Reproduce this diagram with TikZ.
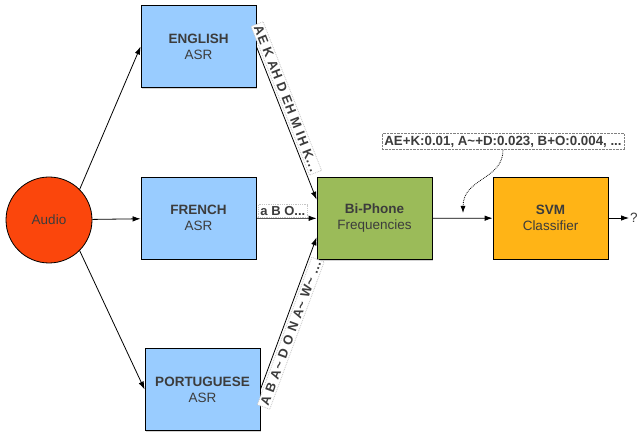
\documentclass[tikz,border=0pt]{standalone}
\usepackage{fontspec}
\setmainfont{Liberation Sans}
\newfontfamily\spacedfont[LetterSpace=7]{Liberation Sans}
\usepackage{xcolor}
\usetikzlibrary{shapes,calc,arrows.meta,shadows}
\definecolor{audiored}{RGB}{251,70,12}
\definecolor{asrblue}{RGB}{153,204,255}
\definecolor{phonegreen}{RGB}{155,187,89}
\definecolor{svmorange}{RGB}{255,180,22}
\definecolor{darktext}{RGB}{60,60,60}

\begin{document}
\begin{tikzpicture}[x=1pt, y=-1pt,
      box/.style={rectangle, draw, line width=0.8pt, minimum width=115pt, minimum height=82pt,
        align=center, text=darktext, font=\fontsize{13.5}{16}\selectfont,
        drop shadow={shadow xshift=1.2pt, shadow yshift=-1.2pt, opacity=0.35}},
      audio/.style={circle, draw, line width=0.8pt, fill=audiored, minimum size=86pt,
        text=darktext, font=\fontsize{13.5}{16}\selectfont},
      lbl/.style={draw=gray!45, densely dotted, fill=white, inner sep=2pt, text=darktext,
        font=\bfseries\fontsize{13}{13}\selectfont},
      slbl/.style={lbl, sloped, font=\spacedfont\bfseries\fontsize{13}{13}\selectfont},
      arr/.style={line width=0.8pt, -{Latex[length=8pt, width=5.5pt]}}]
      \useasboundingbox (0, 0) rectangle (639, 435);
      \node[audio](audio) at (49, 220){Audio};
      \node[box, fill=asrblue](english) at (198.5, 46.5){\textbf{ENGLISH}\\ASR};
      \node[box, fill=asrblue](french) at (198.5, 218){\textbf{FRENCH}\\ASR};
      \node[box, fill=asrblue](portuguese) at (202.5, 389.5){\textbf{PORTUGUESE}\\ASR};
      \node[box, fill=phonegreen](biphone) at (374.5, 218.5){\textbf{Bi-Phone}\\Frequencies};
      \node[box, fill=svmorange](svm) at (550.5, 218){\textbf{SVM}\\Classifier};
      \node[anchor=west, inner sep=1pt, text=darktext, font=\fontsize{13.5}{16}\selectfont](result) at (629, 218){?};
      \node[lbl, draw=gray, font=\bfseries\fontsize{13.3}{13.3}\selectfont, inner sep=2.5pt](stats) at (503, 141.5)
        {AE+K:0.01, A\textasciitilde+D:0.023, B+O:0.004, ...};
      \coordinate(hint) at (463, 213);
      \draw[arr] (audio.45) -- (english.west);
      \draw[arr] (audio) -- (french);
      \draw[arr] (audio.-45) -- (portuguese.west);
      \draw[arr] (english.east) -- node[slbl, above=2pt, pos=.36] {AE K AH D EH M IH K...} (biphone.162);
      \draw[arr] (french) -- node[lbl, above, pos=.44] {a B O...} (biphone);
      \draw[arr] (portuguese.east) -- node[slbl, below=2pt, pos=.39] {A B A\textasciitilde{} D O N A\textasciitilde{} W\textasciitilde{} ...} (biphone.198);
      \draw[arr] (biphone) -- (svm);
      \draw[arr] (svm) -- (result);
      \draw[densely dotted, line width=0.8pt, -{Latex[length=7pt, width=5pt]}] (stats.south) .. controls +(0, 30) and +(0, -35) .. (hint);
    \end{tikzpicture}
\end{document}
